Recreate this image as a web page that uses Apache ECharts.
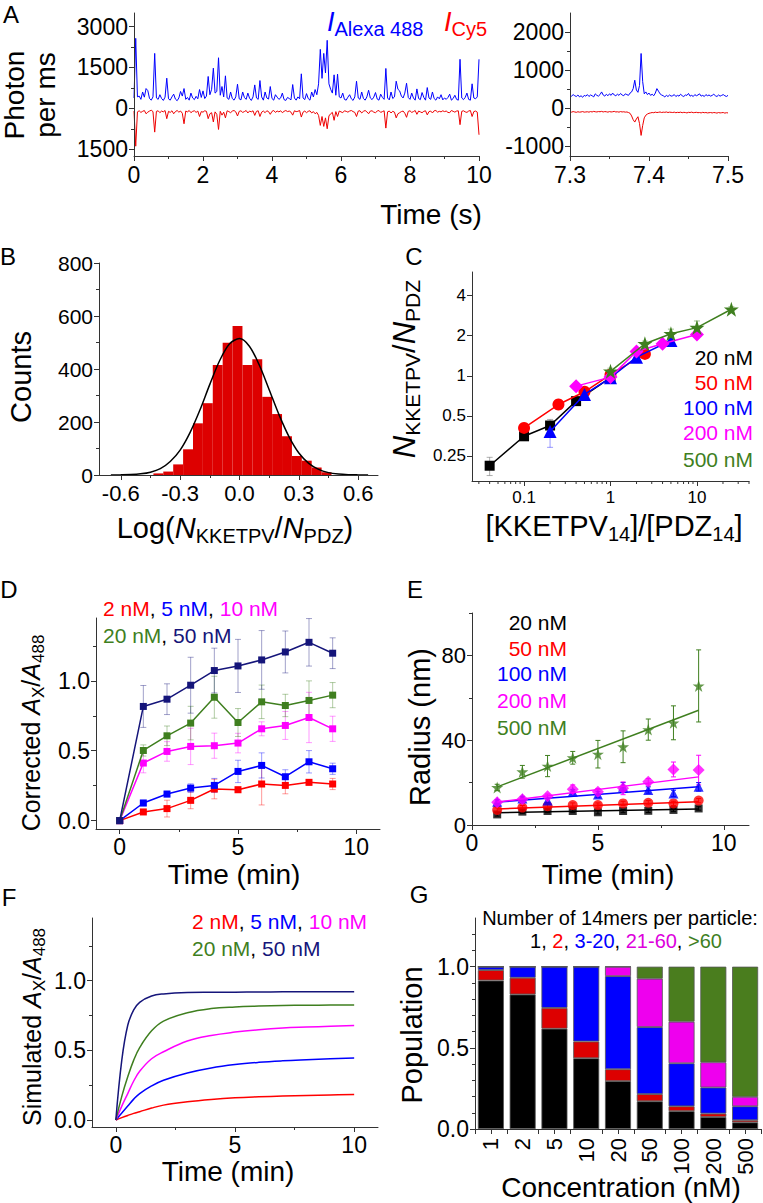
<!DOCTYPE html>
<html><head><meta charset="utf-8">
<script src="https://cdn.jsdelivr.net/npm/echarts@6.0.0/dist/echarts.min.js"></script>
<style>html,body{margin:0;padding:0;background:#fff}#c{width:763px;height:1203px}</style>
</head><body><div id="c"></div>
<script>
// ---------------- DATA ----------------
// Panel A (left): photon traces, sampled every 0.05 s from 0 to 10 s
const aDt = 0.05;
const aBlue = [380,2570,420,450,330,600,410,726,650,360,
 300,420,2017,380,330,500,360,290,410,1107,
 350,300,420,520,340,280,380,620,450,726,
 330,400,300,560,380,320,440,350,690,400,
 640,360,450,1170,500,700,1476,560,620,1857,
 480,800,420,1193,380,330,600,360,300,420,
 886,350,310,600,400,330,560,370,290,420,
 860,380,330,1020,420,300,600,380,340,800,
 360,300,500,410,330,380,560,320,290,400,
 360,310,873,380,300,420,350,1267,380,320,
 540,360,300,600,420,690,500,900,2165,1100,
 2017,1300,2497,900,700,560,1230,480,1255,420,
 380,560,330,300,410,500,350,290,420,996,
 380,330,600,360,300,420,664,380,320,410,
 580,340,300,520,400,330,1464,380,310,600,
 360,420,996,700,640,450,380,560,922,400,
 330,560,380,300,713,360,320,580,400,300,
 762,380,330,600,360,300,420,350,500,310,
 380,330,400,520,300,360,480,330,300,1800,
 380,320,400,560,330,300,900,380,350,420,
 1800];
const aRed = [-100,-1390,-130,-90,-150,-110,-80,-200,-140,-100,
 -70,-120,-873,-110,-90,-160,-100,-130,-80,-380,
 -110,-150,-90,-200,-120,-80,-140,-100,-180,-566,
 -100,-130,-80,-160,-110,-90,-150,-100,-300,-120,
 -140,-90,-110,-380,-200,-160,-500,-130,-220,-775,
 -110,-250,-140,-350,-90,-120,-160,-100,-80,-130,
 -280,-110,-90,-150,-120,-80,-170,-100,-130,-90,
 -260,-110,-90,-300,-140,-100,-160,-90,-120,-220,
 -110,-80,-150,-100,-130,-90,-160,-110,-80,-120,
 -100,-140,-250,-90,-120,-110,-80,-320,-140,-100,
 -160,-110,-90,-170,-120,-200,-150,-260,-627,-300,
 -664,-350,-750,-280,-200,-150,-440,-120,-300,-100,
 -130,-160,-90,-110,-140,-100,-80,-120,-150,-300,
 -100,-90,-170,-110,-80,-130,-200,-100,-90,-140,
 -160,-100,-80,-150,-120,-90,-726,-130,-100,-170,
 -110,-140,-350,-200,-160,-120,-100,-180,-330,-110,
 -90,-150,-120,-80,-220,-100,-130,-160,-110,-90,
 -240,-120,-100,-170,-90,-80,-140,-110,-130,-90,
 -120,-100,-150,-160,-80,-110,-140,-100,-90,-600,
 -110,-90,-130,-150,-100,-80,-300,-120,-100,-140,
 -970];
// Panel A (right): zoom 7.3 - 7.5 s, sampled every 2 ms
const zStart = 7.3, zDt = 0.002;
const zBlue = [340,320,360,330,310,350,300,330,290,340,
 320,360,310,350,330,300,380,340,320,360,
 430,350,320,370,330,380,340,400,350,330,
 370,340,390,350,330,380,360,340,400,430,
 520,737,480,420,600,1438,700,380,430,360,
 400,340,370,330,400,517,450,380,350,330,
 300,340,310,350,320,330,360,310,340,320,
 370,330,310,350,340,390,320,340,310,360,
 330,350,380,320,340,310,360,330,350,320,
 340,370,330,310,350,320,340,360,330,310,
 340];
const zRed = [-90,-100,-85,-95,-105,-90,-100,-95,-85,-100,
 -95,-90,-100,-85,-95,-80,-90,-95,-85,-90,
 -80,-95,-85,-90,-100,-85,-95,-90,-80,-95,
 -90,-100,-85,-95,-90,-100,-95,-110,-130,-200,
 -300,-360,-280,-220,-400,-710,-450,-250,-180,-150,
 -130,-120,-110,-115,-100,-110,-105,-95,-110,-100,
 -105,-95,-110,-100,-105,-110,-100,-115,-105,-110,
 -100,-115,-105,-110,-120,-105,-110,-100,-115,-110,
 -105,-115,-110,-120,-105,-115,-110,-120,-115,-110,
 -120,-110,-115,-125,-110,-120,-115,-110,-125,-115,
 -120];
// Panel B: histogram + Gaussian fit
const histCenters = [-0.41,-0.36,-0.31,-0.26,-0.21,-0.16,-0.11,-0.06,-0.01,0.04,0.09,0.14,0.19,0.24,0.29,0.34,0.39,0.44];
const histCounts  = [6,13,40,97,195,271,415,499,562,415,437,295,230,146,72,54,28,10];
const fitX = [-0.65,-0.6,-0.55,-0.5,-0.45,-0.4,-0.35,-0.3,-0.25,-0.2,-0.15,-0.1,-0.05,0,0.05,0.1,0.15,0.2,0.25,0.3,0.35,0.4,0.45,0.5,0.55,0.6,0.65];
const fitY = [0,0.5,1.5,4.3,10.7,24,51,94,160,245,342,432,495,515,486,415,322,227,145,83,44,21,9,3.5,1.2,0.4,0];
// Panel C: ratio vs ratio (log axes)
const c20x = [0.04,0.1,0.2,0.4,1],  c20y = [0.211,0.351,0.423,0.645,0.97];
const c50x = [0.1,0.25,0.5,1,2.5],  c50y = [0.406,0.608,0.758,1.02,1.46];
const c100x = [0.2,0.5,1,2,5],      c100y = [0.381,0.724,0.966,1.38,1.84];
const c200x = [0.4,1,2,4,10],       c200y = [0.836,0.977,1.52,1.74,2.04];
const c500x = [1,2.5,5,10,25],      c500y = [1.08,1.74,2.07,2.3,3.16];
const c20lo = [0.178,0.34,0.40,0.62,0.93],  c20hi = [0.244,0.36,0.47,0.67,1.01];
const c50lo = [0.39,0.59,0.73,0.98,1.40],   c50hi = [0.42,0.63,0.79,1.06,1.52];
const c100lo = [0.29,0.66,0.92,1.32,1.76],  c100hi = [0.42,0.78,1.01,1.44,1.92];
const c200lo = [0.80,0.90,1.46,1.68,1.98],  c200hi = [0.87,1.06,1.58,1.80,2.10];
const c500lo = [1.02,1.66,1.92,2.06,3.0],   c500hi = [1.14,1.82,2.24,2.58,3.3];
const cMinorTicks = [0.03,0.04,0.05,0.06,0.07,0.08,0.09,0.2,0.3,0.4,0.5,0.6,0.7,0.8,0.9,2,3,4,5,6,7,8,9,20,30,40];
// Panel D: corrected A_X/A_488 vs time
const dT = [0,1,2,3,4,5,6,7,8,9];
const d2  = [0,0.062,0.086,0.145,0.226,0.221,0.262,0.252,0.274,0.262], d2e  = [0,0.01,0.06,0.06,0.07,0.02,0.15,0.06,0.02,0.04];
const d5  = [0,0.126,0.19,0.233,0.252,0.352,0.395,0.314,0.421,0.371],  d5e  = [0,0.02,0.02,0.03,0.05,0.08,0.09,0.05,0.08,0.04];
const d10 = [0,0.412,0.495,0.531,0.536,0.555,0.657,0.681,0.738,0.657], d10e = [0,0.07,0.07,0.13,0.09,0.07,0.05,0.1,0.18,0.09];
const d20 = [0,0.502,0.607,0.698,0.883,0.702,0.85,0.824,0.86,0.898],   d20e = [0,0.04,0.07,0.12,0.15,0.1,0.12,0.08,0.14,0.09];
const d50 = [0,0.817,0.869,0.969,1.074,1.107,1.15,1.207,1.276,1.198],  d50e = [0,0.15,0.11,0.2,0.16,0.19,0.21,0.15,0.17,0.11];
// Panel E: radius vs time
const eT = [1,2,3,4,5,6,7,8,9];
const e20  = [5.0,6.3,6.6,6.6,6.0,6.6,6.7,7.1,7.8],      e20e  = [0.8,0.8,0.8,0.8,0.8,0.8,0.8,0.8,0.8];
const e50  = [7.1,8.2,8.9,9.4,9.4,10.2,10.5,10.2,11.5],  e50e  = [1,1,1,1,1,1,1,1,1];
const e100 = [11,12.5,11.5,15.7,14.4,18,16.5,14.9,18],   e100e = [1,1,1,1,1.5,2,1.5,1.5,2];
const e200 = [10.7,12.1,13.6,16.9,15.7,17.3,20.4,26.2,25.9], e200e = [1,1,1,2,1.5,3,1.5,3.5,7];
const e500 = [17.7,25.1,27.8,31.7,33.4,36.9,45.0,48.2,65.6], e500e = [1.5,3,5,3,6.5,7.5,5,8,17];
const eFitT = [1,9];
const eFit20 = [5.8,7.6], eFit50 = [7.6,11.0], eFit100 = [10.8,18.0], eFit200 = [10.8,22.7], eFit500 = [18.0,54.1];
// Panel F: simulated curves
const fT  = [0,0.25,0.5,0.75,1,1.5,2,3,4,5,6,7,8,9,10];
const f2  = [0,0.017,0.033,0.048,0.06,0.086,0.107,0.131,0.148,0.16,0.167,0.172,0.176,0.18,0.183];
const f5  = [0,0.05,0.1,0.15,0.19,0.245,0.286,0.338,0.374,0.398,0.414,0.425,0.433,0.44,0.445];
const f10 = [0,0.1,0.19,0.28,0.35,0.44,0.49,0.567,0.607,0.631,0.648,0.66,0.667,0.673,0.679];
const f20 = [0,0.17,0.31,0.43,0.52,0.64,0.71,0.77,0.8,0.812,0.818,0.822,0.824,0.825,0.826];
const f50 = [0,0.43,0.68,0.79,0.845,0.89,0.905,0.915,0.917,0.918,0.919,0.92,0.92,0.92,0.92];
// Panel G: population stacks
const gCats = ['1','2','5','10','20','50','100','200','500'];
const g1     = [0.915,0.829,0.618,0.436,0.295,0.171,0.110,0.074,0.041];
const g2     = [0.064,0.103,0.128,0.103,0.073,0.044,0.030,0.021,0.013];
const g3to20 = [0.021,0.068,0.254,0.461,0.574,0.413,0.265,0.161,0.086];
const g21to60= [0,0,0,0,0.058,0.298,0.256,0.155,0.058];
const gOver60= [0,0,0,0,0,0.074,0.339,0.589,0.802];

// ---------------- STYLE ----------------
const FONT = "'Liberation Sans', Arial, Helvetica, sans-serif";
const AXC = '#333';
const RED = '#ff0000', BLUE = '#0000ff', MAG = '#ff00ff', GREEN = '#3f7f1f', NAVY = '#15157a', BLK = '#000000';
const STAR = 'path://M50,0L61.8,35.1L98.9,35.1L68.9,56.9L80.3,92.1L50,70.4L19.7,92.1L31.1,56.9L1.1,35.1L38.2,35.1Z';
function fade(h, a) { const n = parseInt(h.slice(1), 16); return 'rgba(' + (n >> 16) + ',' + ((n >> 8) & 255) + ',' + (n & 255) + ',' + a + ')'; }

const grids = [], xAxes = [], yAxes = [], series = [], graphics = [];
function grid(l, t, w, h) { grids.push({left: l, top: t, width: w, height: h}); return grids.length - 1; }
function ax(list, gi, o) {
  const a = {
    gridIndex: gi, type: o.type || 'value', position: o.pos,
    axisLine: {show: o.line !== false, onZero: false, lineStyle: {color: AXC, width: 1}},
    axisTick: {show: o.tick !== false, inside: false, length: o.tl || 5, alignWithLabel: !!o.awl, lineStyle: {color: AXC, width: 1}},
    axisLabel: {show: o.lab !== false, fontSize: o.fs || 22, fontFamily: FONT, color: '#000', margin: o.lm == null ? 6 : o.lm, rotate: o.rot || 0},
    splitLine: {show: false}, z: 5
  };
  if (o.min != null) a.min = o.min;
  if (o.max != null) a.max = o.max;
  if (o.logBase) a.logBase = o.logBase;
  if (o.data) a.data = o.data;
  if (o.ticks) a.axisTick.customValues = o.ticks;
  if (o.labels) { a.axisLabel.customValues = o.labels; if (!o.ticks) a.axisTick.customValues = o.labels; }
  if (o.fmt) a.axisLabel.formatter = o.fmt;
  if (o.hideEnds) { a.axisLabel.showMinLabel = false; a.axisLabel.showMaxLabel = false; }
  list.push(a); return list.length - 1;
}
function minorAx(list, gi, o) { return ax(list, gi, Object.assign({}, o, {line: false, lab: false, tl: 3, labels: null, ticks: o.minor, fmt: null})); }
function errSeries(xi, yi, data, color, cap) {
  return {type: 'custom', xAxisIndex: xi, yAxisIndex: yi, data: data, z: 1, silent: true,
    encode: {x: 0, y: [1, 2]},
    renderItem: function (p, api) {
      const x = api.value(0), p1 = api.coord([x, api.value(1)]), p2 = api.coord([x, api.value(2)]);
      const st = {stroke: color, lineWidth: 1};
      return {type: 'group', children: [
        {type: 'line', shape: {x1: p1[0], y1: p1[1], x2: p2[0], y2: p2[1]}, style: st},
        {type: 'line', shape: {x1: p1[0] - cap, y1: p1[1], x2: p1[0] + cap, y2: p1[1]}, style: st},
        {type: 'line', shape: {x1: p2[0] - cap, y1: p2[1], x2: p2[0] + cap, y2: p2[1]}, style: st}]};
    }};
}
const T = (fs, fill, ital) => ({fontSize: fs, fontFamily: FONT, fill: fill || '#000', color: fill || '#000', fontStyle: ital ? 'italic' : 'normal'});
const S = (fs, pad, fill) => ({fontSize: fs, fontFamily: FONT, fill: fill || '#000', color: fill || '#000', padding: [pad, 0, 0, 0]});
function text(x, y, str, o) {
  o = o || {};
  const st = {text: str, fontFamily: FONT, fontSize: o.fs || 21, fill: o.fill || '#000', align: o.align || 'center', verticalAlign: 'middle'};
  if (o.rich) st.rich = o.rich;
  if (o.lh) st.lineHeight = o.lh;
  graphics.push({type: 'text', x: x, y: y, rotation: o.rot ? Math.PI / 2 : 0, z: 100, style: st});
}
const plain = v => String(v);

// ---------------- PANEL A ----------------
const gA = grid(134, 13, 345, 143);
const xA = ax(xAxes, gA, {min: 0, max: 10, pos: 'bottom', labels: [0,2,4,6,8,10], fs: 23, lm: 7, fmt: plain});
minorAx(xAxes, gA, {min: 0, max: 10, pos: 'bottom', minor: [1,3,5,7,9]});
const yA = ax(yAxes, gA, {min: -1750, max: 3500, pos: 'left', labels: [-1500,0,1500,3000], fs: 23, fmt: v => String(Math.abs(v))});
minorAx(yAxes, gA, {min: -1750, max: 3500, pos: 'left', minor: [-750,750,2250]});
series.push({type: 'line', xAxisIndex: xA, yAxisIndex: yA, data: aBlue.map((v, i) => [i * aDt, v]), showSymbol: false, symbol: 'none', lineStyle: {color: BLUE, width: 1}});
series.push({type: 'line', xAxisIndex: xA, yAxisIndex: yA, data: aRed.map((v, i) => [i * aDt, v]), showSymbol: false, symbol: 'none', lineStyle: {color: '#ee0000', width: 1}});

const gA2 = grid(570, 13, 158, 143);
const xA2 = ax(xAxes, gA2, {min: 7.3, max: 7.5, pos: 'bottom', labels: [7.3,7.4,7.5], fs: 23, lm: 7, fmt: v => v.toFixed(1)});
minorAx(xAxes, gA2, {min: 7.3, max: 7.5, pos: 'bottom', minor: [7.35,7.45]});
const yA2 = ax(yAxes, gA2, {min: -1250, max: 2500, pos: 'left', labels: [-1000,0,1000,2000], fs: 23, fmt: plain});
minorAx(yAxes, gA2, {min: -1250, max: 2500, pos: 'left', minor: [-500,500,1500]});
series.push({type: 'line', xAxisIndex: xA2, yAxisIndex: yA2, data: zBlue.map((v, i) => [zStart + i * zDt, v]), showSymbol: false, symbol: 'none', lineStyle: {color: BLUE, width: 1}});
series.push({type: 'line', xAxisIndex: xA2, yAxisIndex: yA2, data: zRed.map((v, i) => [zStart + i * zDt, v]), showSymbol: false, symbol: 'none', lineStyle: {color: '#ee0000', width: 1}});

text(11, 14, 'A', {fs: 24});
text(30, 95, 'Photon\nper ms', {fs: 28, rot: true, lh: 31});
text(431, 214, 'Time (s)', {fs: 28});
text(327, 22, '{i|I}{s|Alexa 488}', {align: 'left', rich: {i: T(27, BLUE, true), s: S(20, 14, BLUE)}});
text(444, 22, '{i|I}{s|Cy5}', {align: 'left', rich: {i: T(27, RED, true), s: S(20, 14, RED)}});

// ---------------- PANEL B ----------------
const gB = grid(99, 263, 279, 212);
const xB = ax(xAxes, gB, {min: -0.71, max: 0.7, pos: 'bottom', labels: [-0.6,-0.3,0,0.3,0.6], fs: 22, lm: 7, fmt: v => v.toFixed(1)});
minorAx(xAxes, gB, {min: -0.71, max: 0.7, pos: 'bottom', minor: [-0.45,-0.15,0.15,0.45]});
const yB = ax(yAxes, gB, {min: 0, max: 800, pos: 'left', labels: [0,200,400,600,800], fs: 21, fmt: plain});
minorAx(yAxes, gB, {min: 0, max: 800, pos: 'left', minor: [100,300,500,700]});
series.push({type: 'bar', xAxisIndex: xB, yAxisIndex: yB, data: histCenters.map((c, i) => [c, histCounts[i]]), barWidth: '100%', itemStyle: {color: '#dd0000'}, z: 2});
series.push({type: 'line', xAxisIndex: xB, yAxisIndex: yB, data: fitX.map((x, i) => [x, fitY[i]]), smooth: 0.3, showSymbol: false, symbol: 'none', lineStyle: {color: '#000', width: 1.5}, z: 4});
text(8, 256, 'B', {fs: 24});
text(21, 377, 'Counts', {fs: 29, rot: true});
text(235, 528, '{t|Log(}{i|N}{s|KKETPV}{t|/}{i|N}{s|PDZ}{t|)}', {rich: {t: T(29), i: T(29, '#000', true), s: S(20, 16)}});

// ---------------- PANEL C ----------------
const C_YMIN = 0.162, C_YMAX = 6.02;
const gC = grid(472, 272, 277, 209);
const xC = ax(xAxes, gC, {type: 'log', min: 0.025, max: 40, pos: 'bottom', fs: 17, lm: 8, hideEnds: true});
const yC = ax(yAxes, gC, {type: 'log', logBase: 2, min: C_YMIN, max: C_YMAX, pos: 'left', fs: 17, hideEnds: true});
series.push({type: 'custom', xAxisIndex: xC, yAxisIndex: yC, silent: true, data: cMinorTicks.map(v => [v, C_YMIN]), encode: {x: 0, y: 1}, clip: false,
  renderItem: function (p, api) { const pt = api.coord([api.value(0), api.value(1)]); return {type: 'line', shape: {x1: pt[0], y1: pt[1], x2: pt[0], y2: pt[1] + 3}, style: {stroke: AXC, lineWidth: 1}}; }});
const cSets = [
  [c20x, c20y, c20lo, c20hi, BLK, 'rect', 10, 'rgba(120,120,120,0.6)'],
  [c50x, c50y, c50lo, c50hi, RED, 'circle', 12, fade(RED, 0.4)],
  [c100x, c100y, c100lo, c100hi, BLUE, 'triangle', 13, fade(BLUE, 0.4)],
  [c200x, c200y, c200lo, c200hi, MAG, 'diamond', 14, fade(MAG, 0.4)],
  [c500x, c500y, c500lo, c500hi, GREEN, STAR, 15, fade(GREEN, 0.5)]];
cSets.forEach((s, k) => {
  series.push(errSeries(xC, yC, s[0].map((x, i) => [x, s[2][i], s[3][i]]), s[7], 3));
  series.push({type: 'line', xAxisIndex: xC, yAxisIndex: yC, data: s[0].map((x, i) => [x, s[1][i]]), symbol: s[5], symbolSize: s[6], showSymbol: true,
    itemStyle: {color: s[4]}, lineStyle: {color: s[4], width: 1.5}, z: 3 + k});
});
text(414, 256, 'C', {fs: 24});
text(404, 369, '{i|N}{s|KKETPV}{t|/}{i|N}{s|PDZ}', {rot: true, rich: {t: T(31), i: T(31, '#000', true), s: S(21, 17)}});
text(614, 526, '{t|[KKETPV}{s|14}{t|]/[PDZ}{s|14}{t|]}', {rich: {t: T(29), s: S(20, 16)}});
[['20 nM', BLK, 357], ['50 nM', RED, 382], ['100 nM', BLUE, 407], ['200 nM', MAG, 432], ['500 nM', GREEN, 459]].forEach(l => text(753, l[2], l[0], {fs: 21, fill: l[1], align: 'right'}));

// ---------------- PANEL D ----------------
const gD = grid(96, 618, 284, 211);
const xD = ax(xAxes, gD, {min: -1, max: 11, pos: 'bottom', labels: [0,5,10], fs: 23, lm: 6, fmt: plain});
minorAx(xAxes, gD, {min: -1, max: 11, pos: 'bottom', minor: [2.5,7.5]});
const yD = ax(yAxes, gD, {min: -0.06, max: 1.45, pos: 'left', labels: [0,0.5,1], fs: 23, fmt: v => v.toFixed(1)});
minorAx(yAxes, gD, {min: -0.06, max: 1.45, pos: 'left', minor: [0.25,0.75,1.25]});
[[d2, d2e, RED], [d5, d5e, BLUE], [d10, d10e, MAG], [d20, d20e, GREEN], [d50, d50e, NAVY]].forEach((s, k) => {
  series.push(errSeries(xD, yD, dT.map((t, i) => [t, s[0][i] - s[1][i], s[0][i] + s[1][i]]).filter((d, i) => s[1][i] > 0), fade(s[2], 0.4), 3));
  series.push({type: 'line', xAxisIndex: xD, yAxisIndex: yD, data: dT.map((t, i) => [t, s[0][i]]), symbol: 'rect', symbolSize: 7, showSymbol: true,
    itemStyle: {color: s[2]}, lineStyle: {color: s[2], width: 1.5}, z: 3 + k});
});
text(9, 589, 'D', {fs: 24});
text(31, 733, '{t|Corrected }{i|A}{s|X}{t|/}{i|A}{s|488}', {rot: true, rich: {t: T(25), i: T(25, '#000', true), s: S(17, 14)}});
text(234, 874, 'Time (min)', {fs: 28});
const legRich = {r: T(21, RED), b: T(21, BLUE), m: T(21, MAG), g: T(21, GREEN), n: T(21, NAVY), k: T(21, '#000')};
text(103, 608, '{r|2 nM}{k|, }{b|5 nM}{k|, }{m|10 nM}', {align: 'left', rich: legRich});
text(103, 635, '{g|20 nM}{k|, }{n|50 nM}', {align: 'left', rich: legRich});

// ---------------- PANEL E ----------------
const gE = grid(472, 613, 277, 212);
const xE = ax(xAxes, gE, {min: 0, max: 11, pos: 'bottom', labels: [0,5,10], fs: 23, lm: 6, fmt: plain});
minorAx(xAxes, gE, {min: 0, max: 11, pos: 'bottom', minor: [2.5,7.5]});
const yE = ax(yAxes, gE, {min: 0, max: 100, pos: 'left', labels: [0,40,80], fs: 22, fmt: plain});
minorAx(yAxes, gE, {min: 0, max: 100, pos: 'left', minor: [20,60,100]});
[[e20, e20e, eFit20, BLK, 'rect', 8], [e50, e50e, eFit50, RED, 'circle', 10], [e100, e100e, eFit100, BLUE, 'triangle', 10],
 [e200, e200e, eFit200, MAG, 'diamond', 12], [e500, e500e, eFit500, GREEN, STAR, 12]].forEach((s, k) => {
  series.push(errSeries(xE, yE, eT.map((t, i) => [t, s[0][i] - s[1][i], s[0][i] + s[1][i]]), s[3], 2.5));
  series.push({type: 'scatter', xAxisIndex: xE, yAxisIndex: yE, data: eT.map((t, i) => [t, s[0][i]]), symbol: s[4], symbolSize: s[5], itemStyle: {color: s[3]}, z: 3 + k});
  series.push({type: 'line', xAxisIndex: xE, yAxisIndex: yE, data: eFitT.map((t, i) => [t, s[2][i]]), showSymbol: false, symbol: 'none', lineStyle: {color: s[3], width: 1.5}, z: 3 + k});
});
text(415, 589, 'E', {fs: 24});
text(420, 727, 'Radius (nm)', {fs: 29, rot: true});
text(608, 874, 'Time (min)', {fs: 28});
[['20 nM', BLK, 622], ['50 nM', RED, 648], ['100 nM', BLUE, 673], ['200 nM', MAG, 700], ['500 nM', GREEN, 727]].forEach(l => text(567, l[2], l[0], {fs: 21, fill: l[1], align: 'right'}));

// ---------------- PANEL F ----------------
const gF = grid(92, 918, 286, 209);
const xF = ax(xAxes, gF, {min: -1, max: 11, pos: 'bottom', labels: [0,5,10], fs: 23, lm: 6, fmt: plain});
minorAx(xAxes, gF, {min: -1, max: 11, pos: 'bottom', minor: [2.5,7.5]});
const yF = ax(yAxes, gF, {min: -0.05, max: 1.45, pos: 'left', labels: [0,0.5,1], fs: 23, fmt: v => v.toFixed(1)});
minorAx(yAxes, gF, {min: -0.05, max: 1.45, pos: 'left', minor: [0.25,0.75,1.25]});
[[f2, RED], [f5, BLUE], [f10, MAG], [f20, GREEN], [f50, NAVY]].forEach(s => {
  series.push({type: 'line', xAxisIndex: xF, yAxisIndex: yF, data: fT.map((t, i) => [t, s[0][i]]), smooth: 0.4, showSymbol: false, symbol: 'none', lineStyle: {color: s[1], width: 1.5}});
});
text(9, 897, 'F', {fs: 24});
text(32, 1027, '{t|Simulated }{i|A}{s|X}{t|/}{i|A}{s|488}', {rot: true, rich: {t: T(25), i: T(25, '#000', true), s: S(17, 14)}});
text(228, 1171, 'Time (min)', {fs: 28});
text(192, 921, '{r|2 nM}{k|, }{b|5 nM}{k|, }{m|10 nM}', {align: 'left', rich: legRich});
text(192, 948, '{g|20 nM}{k|, }{n|50 nM}', {align: 'left', rich: legRich});

// ---------------- PANEL G ----------------
const gG = grid(475, 918, 286, 211);
const xG = ax(xAxes, gG, {type: 'category', data: gCats, pos: 'bottom', fs: 22, lm: 9, rot: 90});
ax(xAxes, gG, {type: 'category', data: gCats, pos: 'bottom', line: false, lab: false, awl: true});
const yG = ax(yAxes, gG, {min: 0, max: 1.3, pos: 'left', labels: [0,0.5,1], fs: 23, fmt: v => v.toFixed(1)});
minorAx(yAxes, gG, {min: 0, max: 1.3, pos: 'left', minor: [0.1,0.2,0.3,0.4,0.6,0.7,0.8,0.9,1.1,1.2]});
[[g1, '#000000'], [g2, '#dd0000'], [g3to20, '#0000ff'], [g21to60, '#ee00ee'], [gOver60, '#4a7d1e']].forEach(s => {
  series.push({type: 'bar', xAxisIndex: xG, yAxisIndex: yG, stack: 'pop', data: s[0], barWidth: 26, itemStyle: {color: s[1], borderColor: '#555', borderWidth: 0.8}});
});
text(419, 894, 'G', {fs: 24});
text(412, 1035, 'Population', {fs: 29, rot: true});
text(621, 1187, 'Concentration (nM)', {fs: 28});
text(620, 918, 'Number of 14mers per particle:', {fs: 20});
text(626, 941, '{k|1, }{r|2}{k|, }{b|3-20}{k|, }{m|21-60}{k|, }{g|>60}', {rich: {k: T(20), r: T(20, RED), b: T(20, BLUE), m: T(20, '#dd00dd'), g: T(20, GREEN)}});

// ---------------- CHART ----------------
const chart = echarts.init(document.getElementById('c'), null, {renderer: 'svg', width: 763, height: 1203});
chart.setOption({
  animation: false,
  backgroundColor: '#fff',
  textStyle: {fontFamily: FONT},
  grid: grids, xAxis: xAxes, yAxis: yAxes, series: series,
  graphic: {elements: graphics}
});
</script></body></html>
